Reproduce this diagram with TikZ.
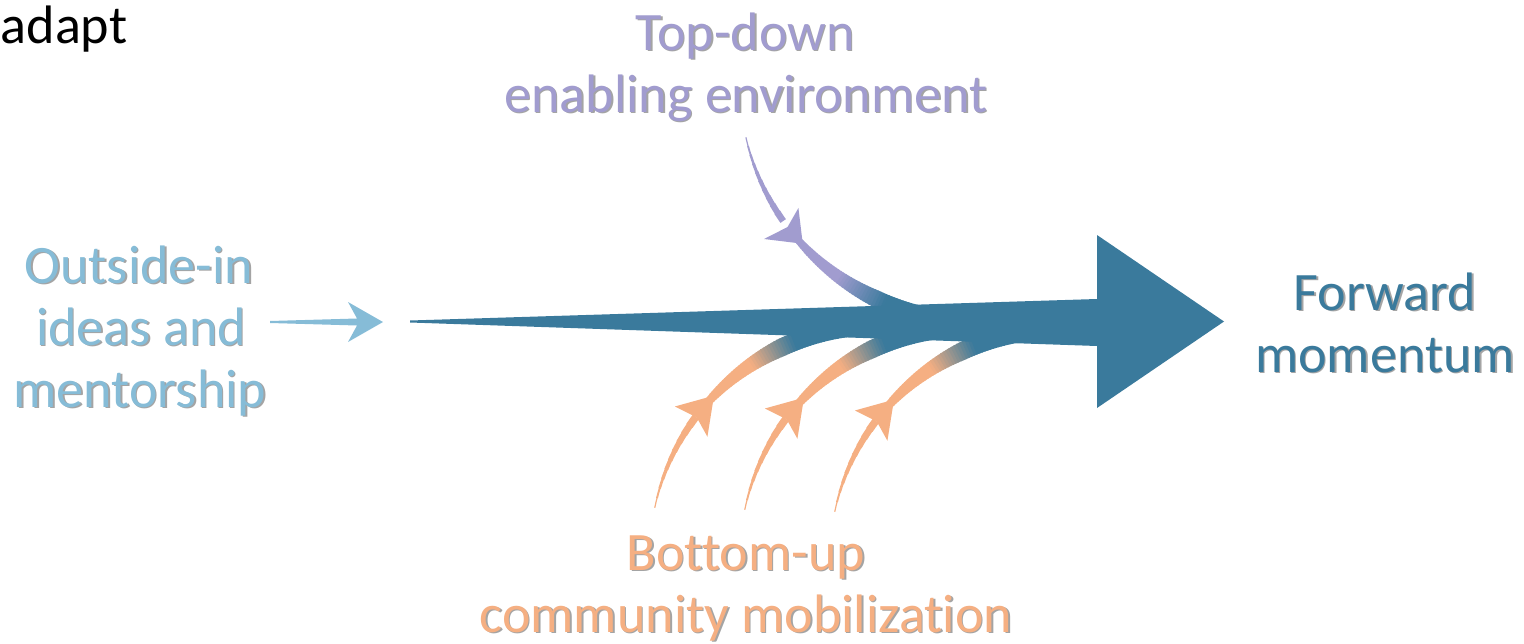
\documentclass[tikz,border=0pt]{standalone}
\usepackage{fontspec}
\setmainfont{Carlito}[Ligatures=NoCommon]
\usepackage{tikz}

\definecolor{flow}{HTML}{3A7A9C}
\definecolor{outside}{HTML}{86BCD7}
\definecolor{topdown}{HTML}{A19CCF}
\definecolor{bottomup}{HTML}{F5AF82}
\definecolor{shade}{HTML}{A4A4A4}
\newcommand{\shtext}[1]{\makebox[0pt][l]{\hspace{0.015cm}\raisebox{-0.015cm}{\textcolor{shade}{#1}}}#1}

\begin{document}
\begin{tikzpicture}[lbl/.style={anchor=base, inner sep=0pt, font=\fontsize{15.4}{18}\selectfont}]
    \useasboundingbox (0,0) rectangle (15.24,6.43);

    % labels
    \node[lbl, anchor=base west] (adapt) at (0.0,6.00) {adapt};
    \node[lbl, text=topdown] (top1) at (7.45,5.93) {\shtext{Top-down}};
    \node[lbl, text=topdown] (top2) at (7.46,5.31) {\shtext{enabling environment}};
    \node[lbl, text=outside] (out1) at (1.39,3.60) {\shtext{Outside-in}};
    \node[lbl, text=outside] (out2) at (1.41,2.98) {\shtext{ideas and}};
    \node[lbl, text=outside] (out3) at (1.40,2.36) {\shtext{mentorship}};
    \node[lbl, text=flow] (fwd1) at (13.85,3.33) {\shtext{Forward}};
    \node[lbl, text=flow] (fwd2) at (13.85,2.71) {\shtext{momentum}};
    \node[lbl, text=bottomup] (bot1) at (7.46,0.73) {\shtext{Bottom-up}};
    \node[lbl, text=bottomup] (bot2) at (7.46,0.11) {\shtext{community mobilization}};

    % outside-in arrow
    \fill[outside] (2.70,3.22) -- (3.57,3.245) -- (3.48,3.41) -- (3.83,3.21) -- (3.48,3.01) -- (3.57,3.175) -- (2.70,3.20) -- cycle;

    % top-down arrow
    \coordinate (ct) at (9.76,5.58);
    \foreach \i [evaluate=\i as \a using 192.8+2.2*\i, evaluate=\i as \w using 0.012+0.006*\i] in {0,...,9}
        \draw[topdown, line width=\w cm] (ct) ++(\a:2.36) arc[start angle=\a, delta angle=2.6, radius=2.36];
    \fill[topdown, shift={(ct)}] (222.5:2.35) -- (216:2.62) -- (217:2.36) -- (214.7:2.16) -- cycle;
    \foreach \a [evaluate=\a as \w using {0.07+0.10*min(1,(\a-220.5)/24)},
                 evaluate=\a as \p using {int(max(0,min(100,100*(247-\a)/13)))}] in {220.5,221.25,...,258}
        \draw[topdown!\p!flow, line width=\w cm] (ct) ++(\a:2.36) arc[start angle=\a, delta angle=0.95, radius=2.36];

    % bottom-up arrows
    \foreach \dx/\dy in {0/0, 0.9/0.02, 1.8/0.04} {
        \coordinate (cb) at (8.78+\dx, 0.89-\dy);
        \foreach \i [evaluate=\i as \a using 168.3-2.5*\i, evaluate=\i as \w using 0.012+0.007*\i] in {0,...,9}
            \draw[bottomup, line width=\w cm] (cb) ++(\a:2.28) arc[start angle=\a, delta angle=-2.8, radius=2.28];
        \fill[bottomup, shift={(cb)}] (136:2.28) -- (144:2.51) -- (143:2.27) -- (145.5:2.07) -- cycle;
        \foreach \a [evaluate=\a as \w using {0.075+0.105*min(1,(139.5-\a)/24)},
                     evaluate=\a as \p using {int(max(0,min(100,100*(\a-112)/12)))}] in {139.5,138.75,...,96}
            \draw[bottomup!\p!flow, line width=\w cm] (cb) ++(\a:2.28) arc[start angle=\a, delta angle=-0.95, radius=2.28];
    }

    % forward arrow
    \fill[flow] (4.10,3.225) -- (10.97,3.44) -- (10.97,4.08) -- (12.24,3.215) -- (10.97,2.35) -- (10.97,2.97) -- (4.10,3.205) -- cycle;
\end{tikzpicture}
\end{document}
